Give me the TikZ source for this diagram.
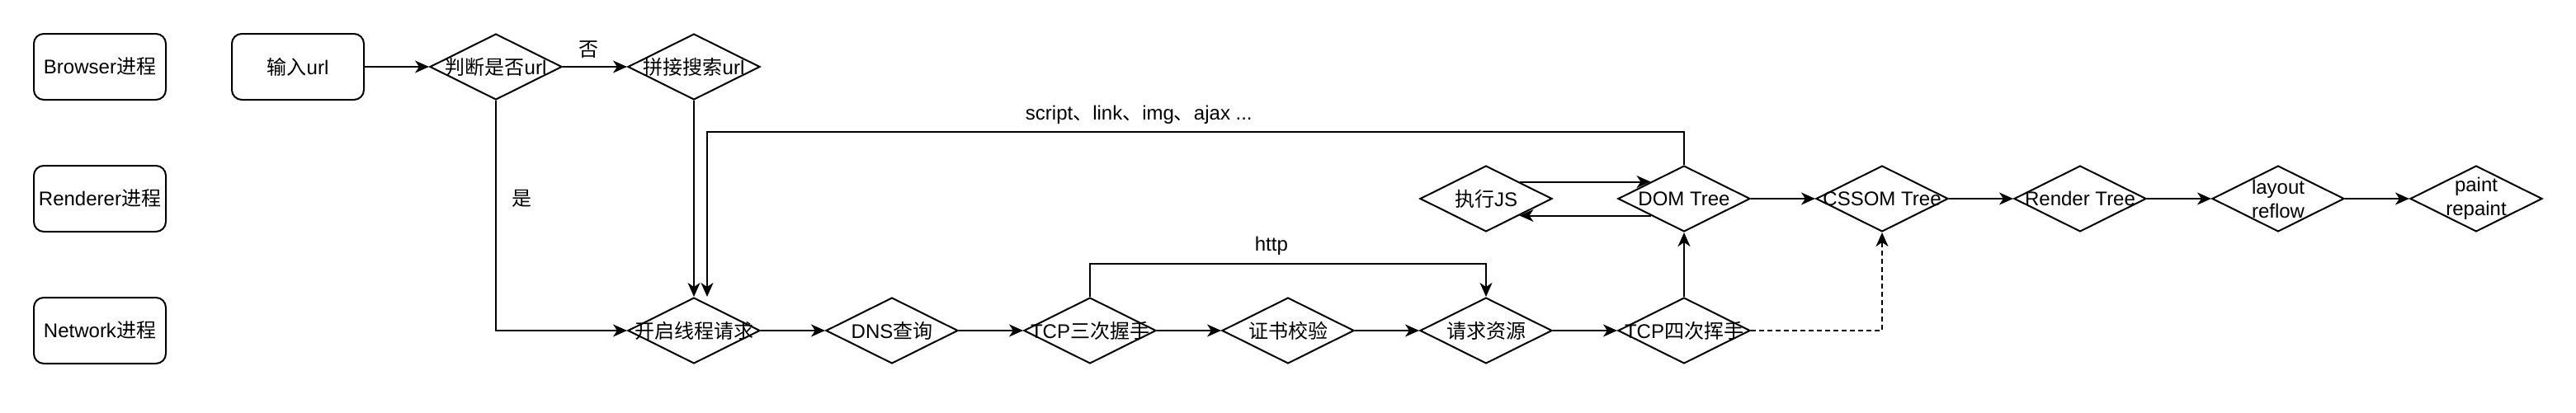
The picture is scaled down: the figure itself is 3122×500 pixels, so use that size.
\documentclass[tikz,border=0pt]{standalone}
\usepackage{fontspec}
\setmainfont{Liberation Sans}
\newfontfamily\cjk{Noto Sans CJK SC}
\usetikzlibrary{shapes.geometric,arrows.meta}
\begin{document}
\begin{tikzpicture}[x=0.5pt,y=-0.5pt,
  every node/.style={font=\fontsize{12pt}{14.5pt}\selectfont},
  proc/.style={draw, line width=1pt, rounded corners=6pt, minimum width=80pt, minimum height=40pt, inner sep=0pt},
  dia/.style={draw, diamond, line width=1pt, minimum width=80pt, minimum height=40pt, inner sep=0pt, aspect=2},
  conn/.style={line width=1pt, -{Stealth[length=8.5pt,width=7.5pt,inset=2.5pt]}},
  dashconn/.style={conn, dash pattern=on 3pt off 2pt},
  lbl/.style={inner sep=0pt},
  dtext/.style={align=center, inner sep=0pt}
]
\useasboundingbox (0,0) rectangle (3122,500);

% process lane labels
\node[proc] (bro) at (121,81) {Browser{\cjk 进程}};
\node[proc] (ren) at (121,241) {Renderer{\cjk 进程}};
\node[proc] (net) at (121,401) {Network{\cjk 进程}};

% browser row
\node[proc] (inp) at (361,81) {{\cjk 输入}url};
\node[dia, label={[dtext]center:{{\cjk 判断是否}url}}] (jud) at (601,81) {};
\node[dia, label={[dtext]center:{{\cjk 拼接搜索}url}}] (spl) at (841,81) {};

% network row
\node[dia, label={[dtext]center:{\cjk 开启线程请求}}] (open) at (841,401) {};
\node[dia, label={[dtext]center:{DNS{\cjk 查询}}}] (dns) at (1081,401) {};
\node[dia, label={[dtext]center:{TCP{\cjk 三次握手}}}] (tcp3) at (1321,401) {};
\node[dia, label={[dtext]center:{\cjk 证书校验}}] (cert) at (1561,401) {};
\node[dia, label={[dtext]center:{\cjk 请求资源}}] (req) at (1801,401) {};
\node[dia, label={[dtext]center:{TCP{\cjk 四次挥手}}}] (tcp4) at (2041,401) {};

% renderer row
\node[dia, label={[dtext]center:{{\cjk 执行}JS}}] (js) at (1801,241) {};
\node[dia, label={[dtext]center:{DOM Tree}}] (dom) at (2041,241) {};
\node[dia, label={[dtext]center:{CSSOM Tree}}] (css) at (2281,241) {};
\node[dia, label={[dtext]center:{Render Tree}}] (rt) at (2521,241) {};
\node[dia, label={[dtext]center:{layout\\reflow}}] (lay) at (2761,241) {};
\node[dia, label={[dtext]center:{paint\\repaint}}] (pnt) at (3001,241) {};

\coordinate (openin) at (857,360);

% connectors
\draw[conn] (inp) -- (jud);
\draw[conn] (jud) -- node[lbl, pos=0.4, above=5pt] {\cjk 否} (spl);
\draw[conn] (jud.south) |- node[lbl, pos=0.2125, right=9pt] {\cjk 是} (open.west);
\draw[conn] (spl) -- (open);
\draw[conn] (dom.north) -- ++(0,-40) -| node[lbl, pos=0.279, above=4.5pt] {script{\cjk 、}link{\cjk 、}img{\cjk 、}ajax ...} (openin);

\draw[conn] (open) -- (dns);
\draw[conn] (dns) -- (tcp3);
\draw[conn] (tcp3) -- (cert);
\draw[conn] (cert) -- (req);
\draw[conn] (req) -- (tcp4);
\draw[conn] (tcp3.north) -- ++(0,-40) -| node[lbl, pos=0.229, above=5pt] {http} (req.north);

\draw[conn] (tcp4) -- (dom);
\draw[conn] (js.north east) -- (dom.north west);
\draw[conn] (dom.south west) -- (js.south east);
\draw[conn] (dom) -- (css);
\draw[conn] (css) -- (rt);
\draw[conn] (rt) -- (lay);
\draw[conn] (lay) -- (pnt);
\draw[dashconn] (tcp4.east) -| (css.south);
\end{tikzpicture}
\end{document}
